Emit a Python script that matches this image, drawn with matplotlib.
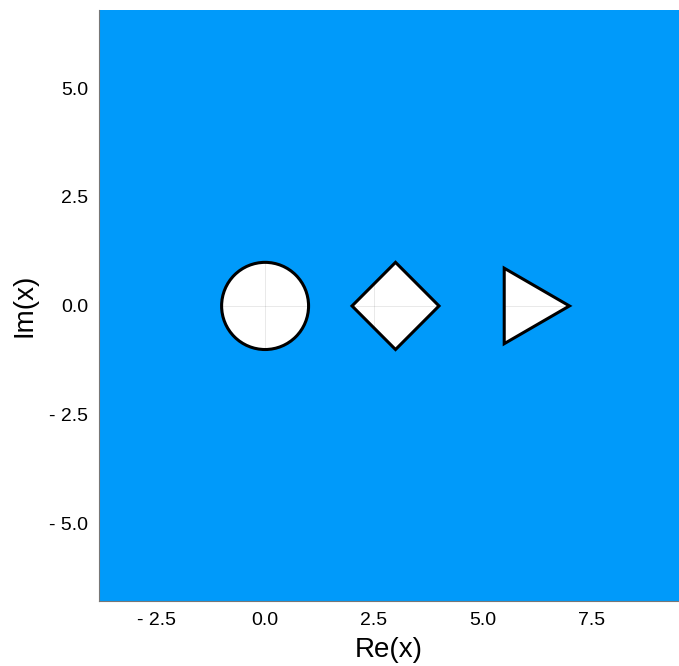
import numpy as np
import matplotlib
matplotlib.use("Agg")
import matplotlib.pyplot as plt
from matplotlib.patches import Circle, RegularPolygon
from matplotlib.ticker import FuncFormatter

plt.rcParams['font.family'] = ['Liberation Sans', 'DejaVu Sans']

# marker centres on the real axis, all with unit circumradius
centers_re = [0.0, 3.0, 6.0]
centers_im = [0.0, 0.0, 0.0]
radii = [1.0, 1.0, 1.0]
shapes = ["circle", "diamond", "triangle"]

xticks = [-2.5, 0.0, 2.5, 5.0, 7.5]
yticks = [-5.0, -2.5, 0.0, 2.5, 5.0]


def make_patch(x, y, r, s, **kw):
    if s == "circle":
        return Circle((x, y), r, **kw)
    if s == "diamond":
        return RegularPolygon((x, y), 4, radius=r, orientation=0, **kw)
    return RegularPolygon((x, y), 3, radius=r, orientation=-np.pi/2, **kw)


fig = plt.figure(figsize=(6.79, 6.66), dpi=100)
ax = fig.add_axes([99/679, 65/666, 580/679, 591/666])
ax.set_facecolor("#009AFA")

for x, y, r, s in zip(centers_re, centers_im, radii, shapes):
    p = make_patch(x, y, r, s, facecolor="white", edgecolor="none", zorder=1)
    ax.add_patch(p)
    # grid only shows through on the white markers
    for xt in xticks:
        ln = ax.axvline(xt, color="black", alpha=0.1, linewidth=0.6, zorder=1.5)
        ln.set_clip_path(p)
    for yt in yticks:
        ln = ax.axhline(yt, color="black", alpha=0.1, linewidth=0.6, zorder=1.5)
        ln.set_clip_path(p)
    ax.add_patch(make_patch(x, y, r, s, fill=False, edgecolor="black",
                            linewidth=2.2, zorder=2))

ax.set_xlim(-3.82, 9.52)
ax.set_ylim(-6.77, 6.79)
ax.set_xticks(xticks)
ax.set_yticks(yticks)
fmt = FuncFormatter(lambda v, pos: ("%.1f" % v).replace("-", "- "))
ax.xaxis.set_major_formatter(fmt)
ax.yaxis.set_major_formatter(fmt)
ax.tick_params(length=0, labelsize=14, pad=8)

for side in ["top", "right"]:
    ax.spines[side].set_visible(False)
for side in ["left", "bottom"]:
    ax.spines[side].set_color("#777777")
    ax.spines[side].set_linewidth(0.8)

ax.set_xlabel("Re(x)", fontsize=20, va="center")
ax.set_ylabel("Im(x)", fontsize=20, va="center")
ax.xaxis.set_label_coords(0.5, -0.083)
ax.yaxis.set_label_coords(-0.128, 0.5)

fig.savefig("out.png", dpi=100)
